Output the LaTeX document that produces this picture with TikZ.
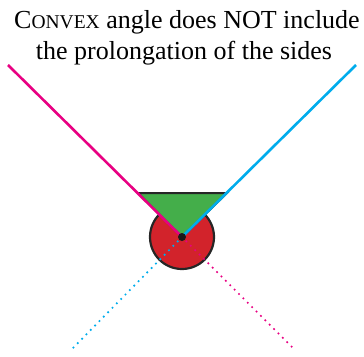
\documentclass[tikz,border=0pt]{standalone}
\usepackage{fontspec}
\setmainfont{Liberation Serif}
\definecolor{mag}{RGB}{232,0,130}
\definecolor{cya}{RGB}{0,172,236}
\definecolor{grn}{RGB}{68,174,74}
\definecolor{rd}{RGB}{210,35,43}
\tikzset{
  side/.style={line width=2.6pt},
  prolong/.style={line width=2.4pt, line cap=round, dash pattern=on 0pt off 6.2pt},
  txt/.style={anchor=base, inner sep=0pt, font=\fontsize{26}{30}\selectfont}
}
\begin{document}
\begin{tikzpicture}[x=1pt,y=-1pt]
\useasboundingbox (0,0) rectangle (364,356);
\coordinate (V) at (182,237);
\coordinate (M) at (8,65);
\coordinate (C) at (356,65);
\coordinate (DC) at (71,350);
\coordinate (DM) at (294,349);
\coordinate (TL) at (138,193);
\coordinate (TR) at (227,193);
\node[circle, draw=black!85, line width=2.2pt, fill=rd, minimum size=64pt, inner sep=0pt] (circ) at (V) {};
\draw[fill=grn, draw=black!85, line width=2pt, line join=miter] (TL) -- (TR) -- (V) -- cycle;
\draw[prolong, cya] (V) -- (DC);
\draw[prolong, mag] (V) -- (DM);
\draw[side, mag] (M) -- (V);
\draw[side, cya] (C) -- (V);
\node[circle, fill=black!90, minimum size=8pt, inner sep=0pt] (dot) at (V) {};
\node[txt] (t1) at (187,28) {C{\fontsize{19.5}{22}\selectfont ONVEX} angle does NOT include};
\node[txt] (t2) at (184,59) {the prolongation of the sides};
\end{tikzpicture}
\end{document}
